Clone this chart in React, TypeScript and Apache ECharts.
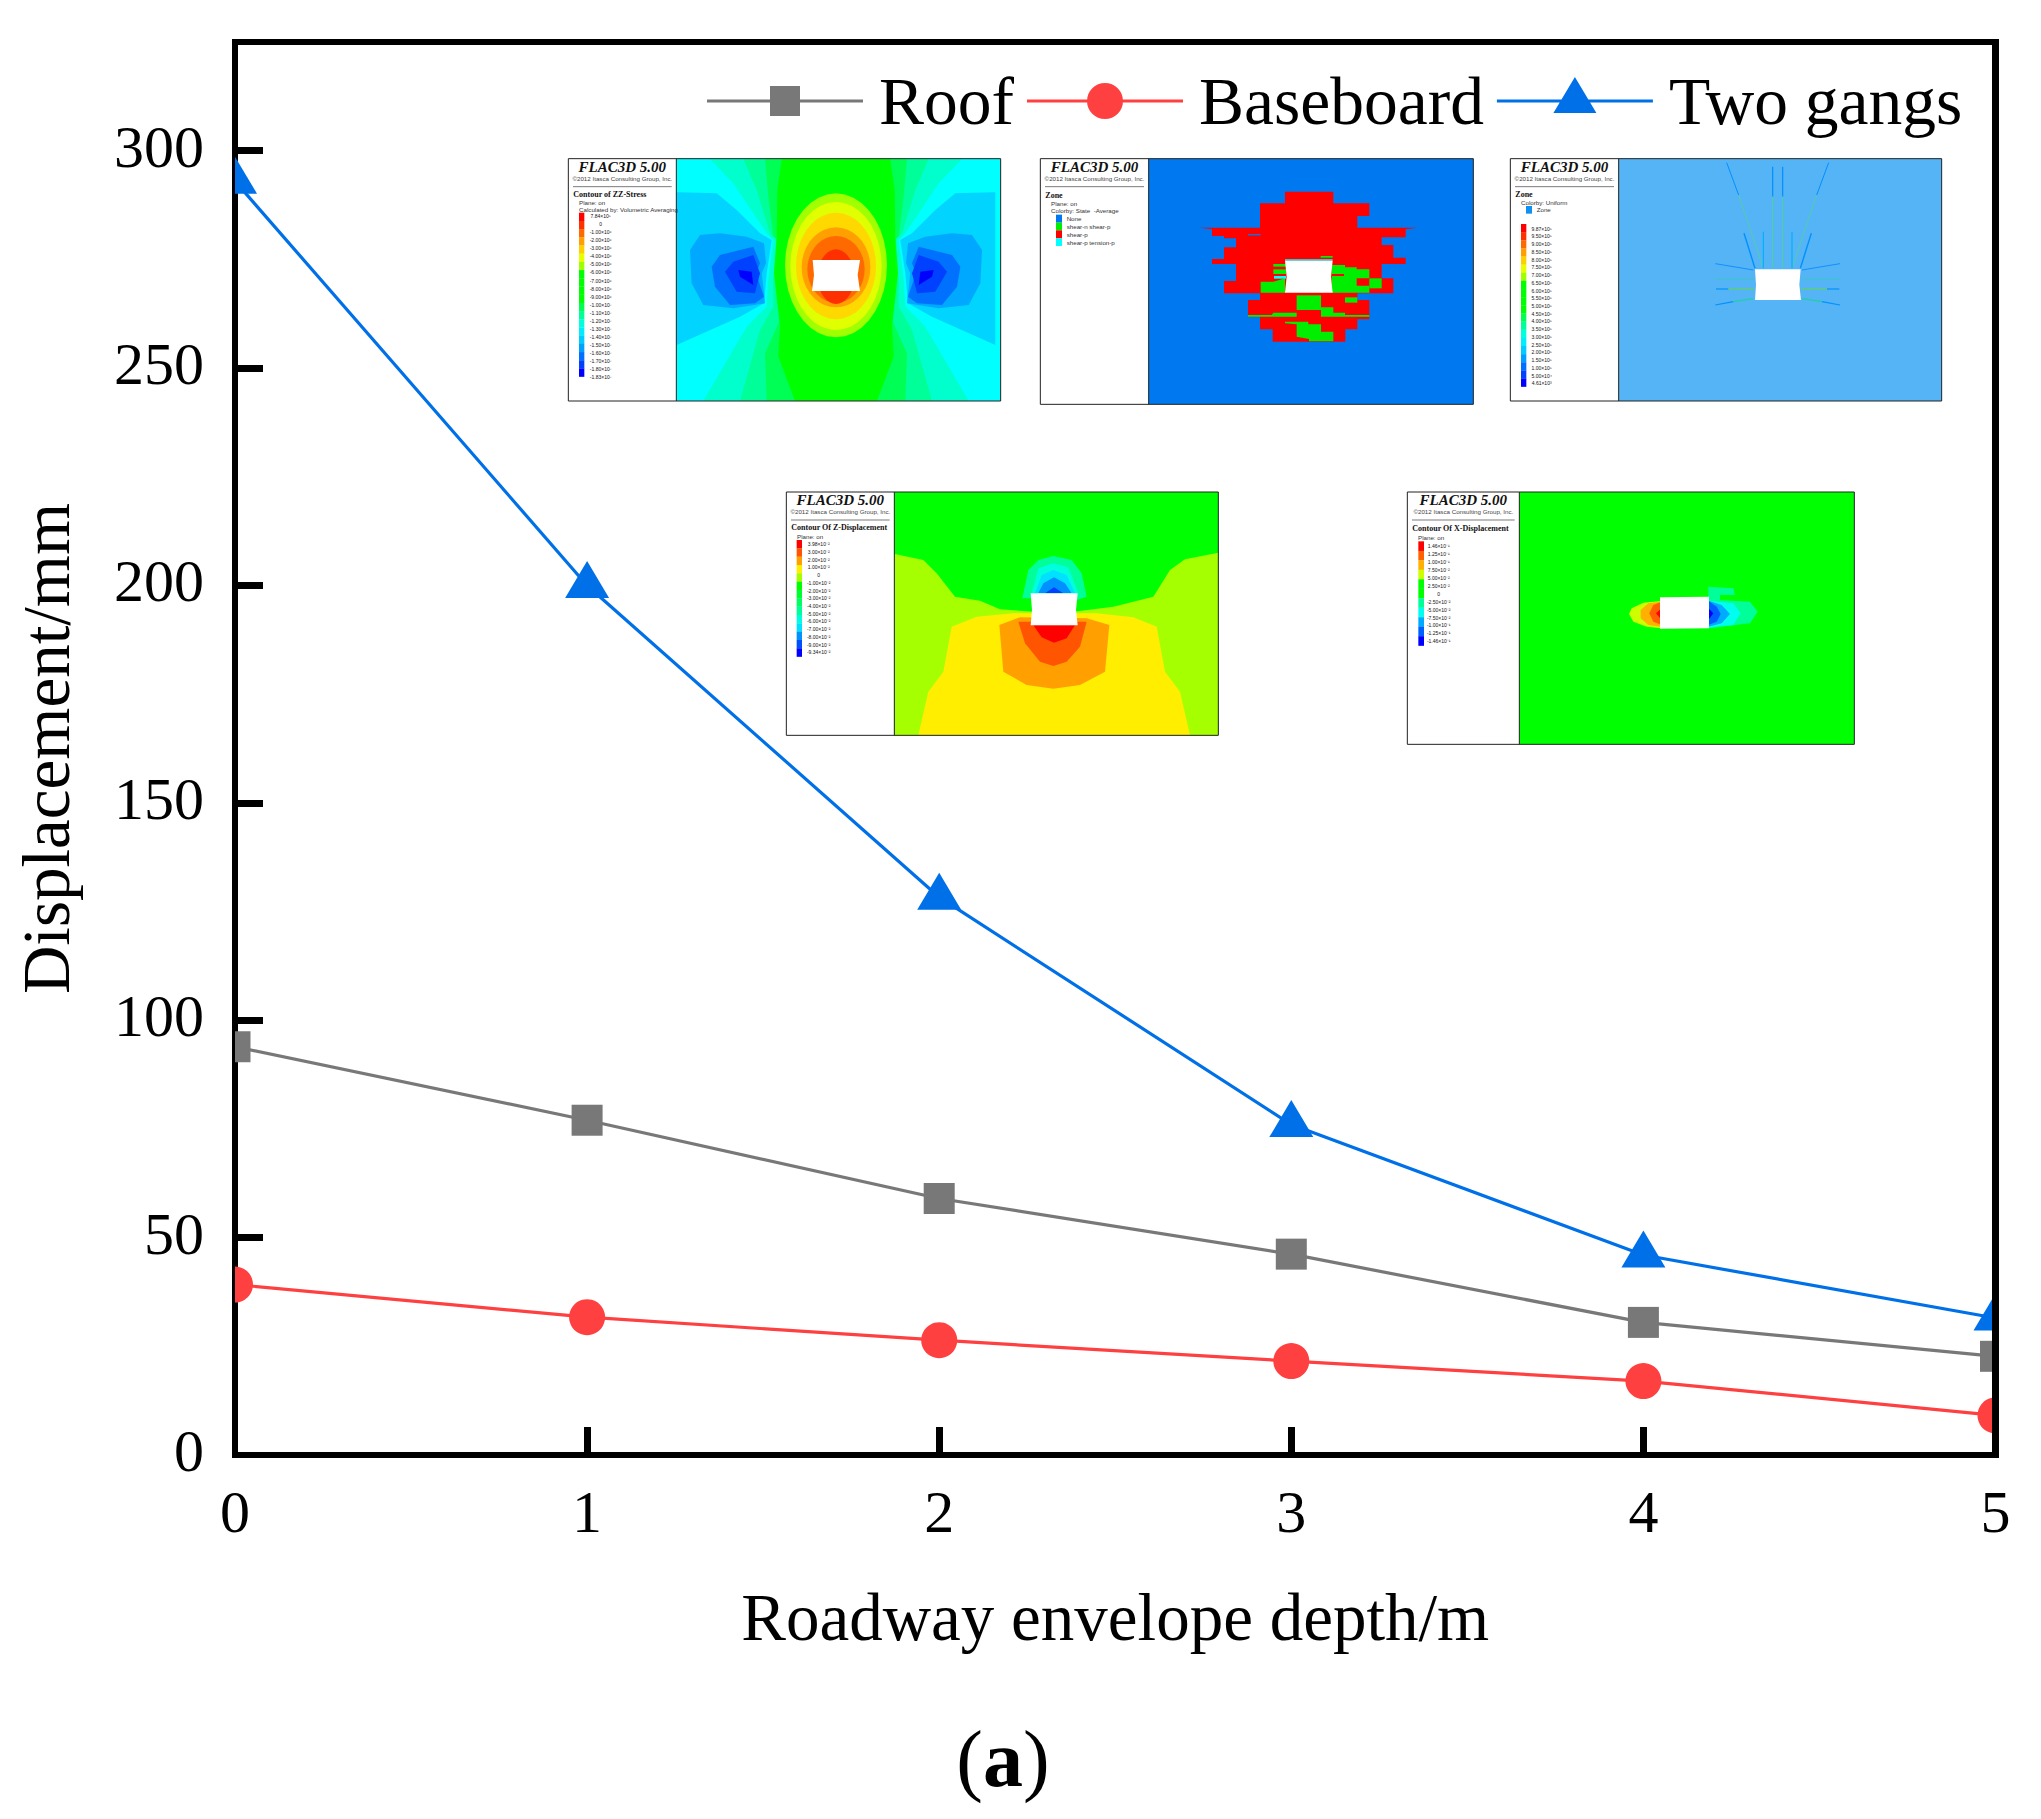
import React, { useEffect, useRef } from "react";
import * as echarts from "echarts";

const depths = [0, 1, 2, 3, 4, 5];
const roof = [93.9, 77, 59, 46.2, 30.5, 22.7];
const baseboard = [39.2, 31.7, 26.4, 21.6, 17, 9.1];
const twoGangs = [293, 200, 128.3, 76, 46, 31.5];
const yTickValues = [0, 50, 100, 150, 200, 250, 300];
const xTickValues = [0, 1, 2, 3, 4, 5];

const SERIF = "'Liberation Serif', 'Times New Roman', serif";
const SANS = "'Liberation Sans', Arial, sans-serif";

const GRAY = "#787878";
const RED = "#ff4040";
const BLUE = "#0070e8";

const CORNERS = "M0 0h.01v.01h-.01z M156 48h-.01v-.01h.01z ";
const LINE_BAR = "M0 22.5h156v3h-156z ";
const ICON_ROOF = "path://" + CORNERS + LINE_BAR + "M63 9h30v30h-30z";
const ICON_BASE = "path://" + CORNERS + LINE_BAR + "M60 24a18 18 0 1 1 36 0a18 18 0 1 1 -36 0z";
const ICON_GANG = "path://" + CORNERS + LINE_BAR + "M56.5 36L78 0L99.5 36z";

type P = [number, number];
const mirror = (pts: P[], cx: number): P[] => pts.map(([x, y]) => [2 * cx - x, y] as P);
const band = (left: P[], cx: number): P[] => [...left, ...mirror(left, cx).reverse()];

const ellipsePts = (cx: number, cy: number, rx: number, ry: number): P[] => {
  const out: P[] = [];
  for (let i = 0; i < 36; i++) {
    const a = (i / 36) * Math.PI * 2;
    out.push([cx + rx * Math.cos(a), cy + ry * Math.sin(a)]);
  }
  return out;
};

const RAMP_21 = [
  "#ff0000", "#ff3000", "#ff6a00", "#ffa000", "#ffd000", "#e8ff00", "#a0ff00", "#00ff00", "#00ff00", "#00ff00",
  "#00ff00", "#00ff50", "#00ff99", "#00ffdd", "#00ecff", "#00ccff", "#00a0ff", "#0070ff", "#0040ff", "#0000ff",
];
const RAMP_Z = ["#ff0000", "#ff5500", "#ffa000", "#ffee00", "#a6ff00", "#00ff00", "#00ff30", "#00ff60", "#00ff99", "#00ffdd", "#00e0ff", "#0090ff", "#0050ff", "#0000ff"];
const RAMP_X = ["#ff0000", "#ff6000", "#ffb000", "#ccff00", "#00ff00", "#00ff00", "#00ff99", "#00ffee", "#00aaff", "#0060ff", "#0000ff"];

const labelsZZ = ["7.84×10⁵", "0", "-1.00×10⁶", "-2.00×10⁶", "-3.00×10⁶", "-4.00×10⁶", "-5.00×10⁶", "-6.00×10⁶", "-7.00×10⁶", "-8.00×10⁶", "-9.00×10⁶", "-1.00×10⁷", "-1.10×10⁷", "-1.20×10⁷", "-1.30×10⁷", "-1.40×10⁷", "-1.50×10⁷", "-1.60×10⁷", "-1.70×10⁷", "-1.80×10⁷", "-1.83×10⁷"];
const labelsCable = ["9.87×10⁵", "9.50×10⁵", "9.00×10⁵", "8.50×10⁵", "8.00×10⁵", "7.50×10⁵", "7.00×10⁵", "6.50×10⁵", "6.00×10⁵", "5.50×10⁵", "5.00×10⁵", "4.50×10⁵", "4.00×10⁵", "3.50×10⁵", "3.00×10⁵", "2.50×10⁵", "2.00×10⁵", "1.50×10⁵", "1.00×10⁵", "5.00×10⁴", "4.61×10³"];
const labelsZ = ["3.98×10⁻²", "3.00×10⁻²", "2.00×10⁻²", "1.00×10⁻²", "0", "-1.00×10⁻²", "-2.00×10⁻²", "-3.00×10⁻²", "-4.00×10⁻²", "-5.00×10⁻²", "-6.00×10⁻²", "-7.00×10⁻²", "-8.00×10⁻²", "-9.00×10⁻²", "-9.34×10⁻²"];
const labelsX = ["1.46×10⁻¹", "1.25×10⁻¹", "1.00×10⁻¹", "7.50×10⁻²", "5.00×10⁻²", "2.50×10⁻²", "0", "-2.50×10⁻²", "-5.00×10⁻²", "-7.50×10⁻²", "-1.00×10⁻¹", "-1.25×10⁻¹", "-1.46×10⁻¹"];

type Shape = { c: string; p: P[] };
type Cable = { c: string; a: P; b: P; w?: number };
type Swatch = { c: string; y0: number; y1: number; t: string };
type Inset = {
  ox: number; oy: number;
  frame: [number, number, number, number, number];
  bg: string;
  shapes: Shape[];
  cables?: Cable[];
  head: string; headY: number; lines: { t: string; y: number }[];
  swatches?: Swatch[];
  bar?: { x0: number; x1: number; y0: number; y1: number; colors: string[] };
  labels?: { x: number; y0: number; y1: number; t: string[] };
};

const CX1 = 828;
const inset1Side: Shape[] = [
  { c: "#00d4ff", p: [[350, 157], [470, 160], [530, 210], [600, 280], [635, 300], [620, 400], [612, 490], [540, 530], [350, 615]] },
  { c: "#00a8ff", p: [[390, 330], [420, 285], [480, 280], [560, 290], [612, 310], [618, 370], [605, 400], [615, 490], [520, 505], [430, 495], [395, 430]] },
  { c: "#0070ff", p: [[455, 380], [480, 345], [580, 320], [600, 370], [588, 400], [612, 470], [585, 490], [510, 495], [465, 440]] },
  { c: "#0040ff", p: [[495, 395], [520, 365], [580, 345], [600, 400], [585, 460], [530, 455]] },
  { c: "#0000ff", p: [[535, 390], [575, 395], [580, 435], [540, 410]] },
];
const inset1: Inset = {
  ox: 560, oy: 140, frame: [25, 56, 1322, 783, 349], bg: "#00ffff",
  shapes: [
    { c: "#00ffcc", p: band([[450, 57], [520, 130], [620, 280], [640, 300], [625, 420], [620, 500], [560, 560], [430, 783]], CX1) },
    { c: "#00ff99", p: band([[550, 57], [590, 150], [630, 280], [650, 300], [640, 420], [640, 500], [600, 570], [540, 783]], CX1) },
    { c: "#00ff55", p: band([[615, 57], [625, 170], [640, 290], [655, 300], [650, 430], [660, 540], [615, 640], [620, 783]], CX1) },
    { c: "#00ff00", p: band([[665, 57], [652, 150], [650, 290], [642, 400], [660, 560], [655, 650], [705, 783]], CX1) },
    ...inset1Side,
    ...inset1Side.map((s) => ({ c: s.c, p: mirror(s.p, CX1) })),
    { c: "#a0ff00", p: ellipsePts(828, 376, 153, 216) },
    { c: "#e0ff00", p: ellipsePts(828, 378, 137, 192) },
    { c: "#ffd800", p: ellipsePts(828, 378, 120, 160) },
    { c: "#ffa000", p: ellipsePts(828, 382, 103, 120) },
    { c: "#ff6a00", p: ellipsePts(828, 388, 86, 100) },
    { c: "#ff3000", p: ellipsePts(828, 410, 55, 82) },
    { c: "#ffffff", p: [[758, 360], [900, 360], [893, 405], [900, 453], [756, 453], [762, 405]] },
  ],
  head: "Contour of ZZ-Stress", headY: 163,
  lines: [{ t: "Plane: on", y: 186 }, { t: "Calculated by: Volumetric Averaging", y: 208 }],
  bar: { x0: 57, x1: 73, y0: 218, y1: 710, colors: RAMP_21 },
  labels: { x: 122, y0: 228, y1: 712, t: labelsZZ },
};

const inset2: Inset = {
  ox: 1030, oy: 140, frame: [31, 56, 1330, 793, 356], bg: "#0078f0",
  shapes: [
    { c: "#ff0000", p: [[765, 155], [910, 155], [910, 190], [1018, 190], [1018, 228], [982, 228], [982, 263], [1163, 263], [1127, 268], [1127, 292], [1055, 292], [1055, 315], [1090, 315], [1090, 353], [1127, 353], [1127, 372], [1055, 372], [1055, 415], [1090, 415], [1090, 460], [582, 460], [582, 423], [618, 423], [618, 372], [546, 372], [546, 357], [582, 357], [582, 322], [618, 322], [618, 295], [582, 295], [582, 288], [546, 288], [546, 268], [510, 263], [690, 263], [690, 190], [765, 190]] },
    { c: "#ff0000", p: [[690, 458], [982, 458], [982, 480], [1018, 480], [1018, 538], [982, 538], [982, 568], [946, 568], [946, 605], [728, 605], [728, 568], [690, 568], [690, 530], [654, 530], [654, 480], [690, 480]] },
    { c: "#0078f0", p: [[654, 282], [692, 282], [692, 286], [654, 286]] },
    { c: "#00ee00", p: [[692, 425], [730, 425], [765, 415], [765, 458], [692, 458]] },
    { c: "#00ee00", p: [[905, 375], [945, 375], [945, 382], [980, 382], [980, 388], [1018, 388], [1018, 415], [980, 415], [980, 437], [1018, 437], [1018, 458], [905, 458]] },
    { c: "#00ee00", p: [[1018, 415], [1055, 415], [1055, 445], [1018, 445]] },
    { c: "#00ee00", p: [[800, 466], [873, 466], [873, 510], [800, 510]] },
    { c: "#00ee00", p: [[873, 502], [910, 502], [910, 518], [945, 518], [945, 525], [1018, 525], [1018, 530], [873, 530]] },
    { c: "#00ee00", p: [[654, 525], [725, 525], [730, 518], [800, 518], [800, 530], [654, 530]] },
    { c: "#00ee00", p: [[945, 472], [982, 472], [982, 488], [945, 488]] },
    { c: "#00ee00", p: [[765, 545], [835, 545], [835, 553], [873, 553], [873, 575], [910, 575], [910, 604], [837, 604], [837, 597], [800, 590], [800, 553], [765, 550]] },
    { c: "#00ee00", p: [[730, 372], [768, 372], [768, 380], [730, 380]] },
    { c: "#00ee00", p: [[730, 388], [768, 388], [768, 402], [730, 402]] },
    { c: "#00ee00", p: [[872, 348], [908, 348], [908, 353], [872, 353]] },
    { c: "#ff0000", p: [[905, 402], [942, 402], [942, 408], [905, 408]] },
    { c: "#00ffff", p: [[732, 408], [768, 408], [768, 416], [732, 416]] },
    { c: "#00ffff", p: [[765, 358], [908, 358], [908, 362], [765, 362]] },
    { c: "#ffffff", p: [[765, 362], [908, 362], [903, 410], [908, 458], [765, 458], [770, 410]] },
  ],
  head: "Zone", headY: 165,
  lines: [{ t: "Plane: on", y: 189 }, { t: "Colorby: State  -Average", y: 212 }],
  swatches: [
    { c: "#0078f0", y0: 224, y1: 248, t: "None" },
    { c: "#00ee00", y0: 248, y1: 271, t: "shear-n shear-p" },
    { c: "#ff0000", y0: 271, y1: 295, t: "shear-p" },
    { c: "#00ffff", y0: 295, y1: 318, t: "shear-p tension-p" },
  ],
};

const CX3 = 833;
const cableLeft: Cable[] = [
  { c: "#0090ff", a: [680, 68], b: [716, 165], w: 1 },
  { c: "#50d0a0", a: [716, 165], b: [790, 385], w: 0.8 },
  { c: "#0090ff", a: [818, 80], b: [818, 170], w: 1.2 },
  { c: "#50d0a0", a: [818, 170], b: [818, 385], w: 1 },
  { c: "#0090ff", a: [732, 280], b: [765, 385], w: 1.4 },
  { c: "#00b0ff", a: [790, 275], b: [790, 385], w: 1.2 },
  { c: "#1090ff", a: [646, 371], b: [760, 390], w: 1 },
  { c: "#30d0b0", a: [648, 418], b: [762, 418], w: 0.7 },
  { c: "#0090ff", a: [648, 447], b: [685, 447], w: 1.2 },
  { c: "#60d060", a: [685, 447], b: [762, 447], w: 1.2 },
  { c: "#0090ff", a: [646, 495], b: [700, 485], w: 1.2 },
  { c: "#20d0a0", a: [700, 485], b: [760, 476], w: 1.2 },
];
const inset3: Inset = {
  ox: 1500, oy: 140, frame: [31, 56, 1325, 783, 356], bg: "#55b4f5",
  shapes: [],
  cables: [
    ...cableLeft,
    ...cableLeft.map((k) => ({ ...k, a: [2 * CX3 - k.a[0], k.a[1]] as P, b: [2 * CX3 - k.b[0], k.b[1]] as P })),
  ],
  head: "Zone", headY: 163,
  lines: [{ t: "Colorby: Uniform", y: 186 }],
  swatches: [{ c: "#1090f0", y0: 198, y1: 221, t: "Zone" }],
  bar: { x0: 63, x1: 79, y0: 252, y1: 740, colors: RAMP_21 },
  labels: { x: 125, y0: 266, y1: 730, t: labelsCable },
};

const inset4: Inset = {
  ox: 780, oy: 480, frame: [19, 36, 1315, 766, 343], bg: "#00ff00",
  shapes: [
    { c: "#a6ff00", p: [[344, 222], [430, 240], [470, 280], [525, 350], [600, 362], [660, 388], [760, 395], [880, 395], [1000, 380], [1120, 350], [1170, 270], [1215, 238], [1315, 218], [1315, 766], [344, 766]] },
    { c: "#ffee00", p: [[415, 766], [445, 635], [490, 575], [515, 440], [590, 410], [700, 400], [950, 400], [1060, 412], [1130, 440], [1155, 575], [1200, 635], [1230, 766]] },
    { c: "#ffa000", p: [[658, 435], [720, 412], [920, 415], [988, 435], [975, 575], [900, 615], [820, 626], [740, 615], [670, 575]] },
    { c: "#ff5500", p: [[715, 425], [920, 425], [900, 500], [860, 545], [820, 558], [780, 545], [735, 490]] },
    { c: "#ff0000", p: [[760, 436], [885, 436], [860, 475], [822, 488], [785, 472]] },
    { c: "#00ff99", p: [[727, 355], [745, 270], [775, 240], [820, 228], [875, 240], [905, 280], [920, 350], [890, 360], [755, 355]] },
    { c: "#00ffdd", p: [[755, 340], [775, 265], [820, 250], [865, 262], [895, 340]] },
    { c: "#00e0ff", p: [[765, 340], [785, 285], [820, 270], [860, 285], [885, 340]] },
    { c: "#0090ff", p: [[775, 340], [790, 310], [822, 292], [855, 310], [875, 340]] },
    { c: "#0040ff", p: [[795, 340], [822, 322], [850, 340]] },
    { c: "#ffffff", p: [[752, 340], [893, 340], [888, 390], [893, 436], [752, 436], [756, 390]] },
  ],
  head: "Contour Of Z-Displacement", headY: 142,
  lines: [{ t: "Plane: on", y: 168 }],
  bar: { x0: 50, x1: 66, y0: 180, y1: 530, colors: RAMP_Z },
  labels: { x: 116, y0: 193, y1: 517, t: labelsZ },
};

const inset5: Inset = {
  ox: 1400, oy: 480, frame: [22, 36, 1363, 793, 358], bg: "#00ff00",
  shapes: [
    { c: "#ccff00", p: [[785, 363], [730, 368], [695, 385], [687, 402], [700, 425], [740, 440], [785, 445]] },
    { c: "#ffb000", p: [[785, 365], [745, 370], [722, 390], [722, 415], [745, 435], [785, 440]] },
    { c: "#ff6000", p: [[785, 365], [760, 375], [748, 400], [760, 425], [785, 435]] },
    { c: "#ff0000", p: [[785, 385], [768, 400], [785, 420]] },
    { c: "#00ff99", p: [[925, 320], [1000, 325], [1005, 345], [960, 345], [960, 360], [1050, 365], [1073, 395], [1050, 430], [925, 445]] },
    { c: "#00ffee", p: [[925, 362], [1000, 370], [1022, 400], [1000, 435], [925, 443]] },
    { c: "#00aaff", p: [[925, 362], [965, 375], [990, 402], [965, 430], [925, 440]] },
    { c: "#0060ff", p: [[925, 362], [950, 380], [962, 402], [950, 425], [925, 435]] },
    { c: "#0000ff", p: [[925, 385], [940, 400], [925, 420]] },
    { c: "#ffffff", p: [[780, 352], [927, 350], [927, 445], [780, 446]] },
  ],
  head: "Contour Of X-Displacement", headY: 146,
  lines: [{ t: "Plane: on", y: 172 }],
  bar: { x0: 55, x1: 72, y0: 184, y1: 497, colors: RAMP_X },
  labels: { x: 116, y0: 198, y1: 484, t: labelsX },
};

const insets: Inset[] = [inset1, inset2, inset3, inset4, inset5];

function drawInset(s: Inset): any[] {
  const X = (v: number) => s.ox + v / 3;
  const Y = (v: number) => s.oy + v / 3;
  const [l, t, r, b, sp] = s.frame;
  const els: any[] = [];
  const z = 1;
  const silent = true;
  const rect = (x0: number, y0: number, x1: number, y1: number, fill: string) => ({
    type: "rect", z, silent,
    shape: { x: X(x0), y: Y(y0), width: (x1 - x0) / 3, height: (y1 - y0) / 3 },
    style: { fill },
  });
  const text = (txt: string, x: number, y: number, font: string, align = "left", fill = "#222") => ({
    type: "text", z, silent,
    style: { text: txt, x: X(x), y: Y(y), font, fill, textAlign: align, textVerticalAlign: "middle" },
  });
  els.push(rect(l, t, r, b, "#ffffff"));
  els.push(rect(sp, t, r, b, s.bg));
  for (const sh of s.shapes) {
    els.push({
      type: "polygon", z, silent,
      shape: { points: sh.p.map(([x, y]) => [X(x), Y(y)]) },
      style: { fill: sh.c },
    });
  }
  if (s.cables) {
    for (const k of s.cables) {
      els.push({
        type: "line", z, silent,
        shape: { x1: X(k.a[0]), y1: Y(k.a[1]), x2: X(k.b[0]), y2: Y(k.b[1]) },
        style: { stroke: k.c, lineWidth: k.w ?? 1 },
      });
    }
    els.push({
      type: "polygon", z, silent,
      shape: { points: ([[765, 388], [902, 388], [898, 434], [903, 480], [765, 480], [768, 434]] as P[]).map(([x, y]) => [X(x), Y(y)]) },
      style: { fill: "#ffffff" },
    });
  }
  // frame
  els.push({
    type: "rect", z, silent,
    shape: { x: X(l), y: Y(t), width: (r - l) / 3, height: (b - t) / 3 },
    style: { fill: "none", stroke: "#222", lineWidth: 1 },
  });
  els.push({
    type: "line", z, silent,
    shape: { x1: X(sp), y1: Y(t), x2: X(sp), y2: Y(b) },
    style: { stroke: "#222", lineWidth: 1 },
  });
  const mid = (l + sp) / 2;
  els.push(text("FLAC3D 5.00", mid, t + 24, `italic bold 15px ${SERIF}`, "center", "#111"));
  els.push(text("©2012 Itasca Consulting Group, Inc.", mid, t + 58, `6.2px ${SANS}`, "center", "#444"));
  els.push({
    type: "line", z, silent,
    shape: { x1: X(l + 14), y1: Y(t + 84), x2: X(sp - 14), y2: Y(t + 84) },
    style: { stroke: "#444", lineWidth: 0.7 },
  });
  els.push(text(s.head, l + 15, s.headY, `bold 8px ${SERIF}`, "left", "#111"));
  for (const ln of s.lines) els.push(text(ln.t, l + 32, ln.y, `6.2px ${SANS}`, "left", "#333"));
  if (s.swatches) {
    for (const w of s.swatches) {
      els.push(rect(l + 47, w.y0, l + 65, w.y1, w.c));
      els.push(text(w.t, l + 79, (w.y0 + w.y1) / 2, `6.2px ${SANS}`, "left", "#333"));
    }
  }
  if (s.bar) {
    const { x0, x1, y0, y1, colors } = s.bar;
    const h = (y1 - y0) / colors.length;
    colors.forEach((c, i) => els.push(rect(x0, y0 + i * h, x1, y0 + (i + 1) * h + 0.5, c)));
  }
  if (s.labels) {
    const { x, y0, y1, t: ls } = s.labels;
    ls.forEach((txt, i) => {
      els.push(text(txt, x, y0 + ((y1 - y0) * i) / (ls.length - 1), `5px ${SANS}`, "center", "#111"));
    });
  }
  return els;
}

// Clip the edge markers the way the plot frame does in the original figure.
const edgeCovers = [
  { x: 208, w: 24, fill: "#ffffff" },
  { x: 232, w: 3, fill: "#000000" },
  { x: 1992, w: 7, fill: "#000000" },
  { x: 1999, w: 24, fill: "#ffffff" },
];

const tick = { show: true, inside: true, length: 28, lineStyle: { color: "#000", width: 7 } };

export default function App() {
  const ref = useRef<HTMLDivElement>(null);
  useEffect(() => {
    const chart = echarts.init(ref.current!, undefined, { renderer: "svg" });
    const mk = (name: string, data: number[], color: string, symbol: string, symbolSize: any, symbolOffset?: any) => ({
      name,
      type: "line",
      data: depths.map((d, i) => [d, data[i]]),
      symbol,
      symbolSize,
      symbolOffset,
      showSymbol: true,
      clip: true,
      itemStyle: { color },
      lineStyle: { color, width: 3.2 },
      emphasis: { disabled: true },
    });
    chart.setOption({
      animation: false,
      backgroundColor: "#ffffff",
      title: {
        text: "{p|(}{b|a}{p|)}", left: 1003, top: 1714, textAlign: "center", padding: 0,
        textStyle: {
          fontWeight: "normal",
          rich: {
            p: { fontFamily: SERIF, fontWeight: "normal", fontSize: 80, color: "#000", lineHeight: 90 },
            b: { fontFamily: SERIF, fontWeight: "bold", fontSize: 80, color: "#000", lineHeight: 90 },
          },
        },
      },
      grid: { left: 235, right: 45.5, top: 42, bottom: 364, show: true, borderColor: "#000", borderWidth: 6, backgroundColor: "transparent", outerBoundsMode: "none" },
      legend: {
        left: 707, top: 67, padding: 0, itemWidth: 156, itemHeight: 48, itemGap: 13,
        selectedMode: false,
        itemStyle: { borderWidth: 0 },
        textStyle: { fontFamily: SERIF, fontSize: 67.5, color: "#000", padding: [0, 0, 0, 11] },
        data: [
          { name: "Roof", icon: ICON_ROOF },
          { name: "Baseboard", icon: ICON_BASE },
          { name: "Two gangs", icon: ICON_GANG },
        ],
      },
      xAxis: {
        type: "value", min: 0, max: 5, interval: 1,
        name: "Roadway envelope depth/m", nameLocation: "middle", nameGap: 128,
        nameTextStyle: { fontFamily: SERIF, fontSize: 67, color: "#000" },
        axisLine: { show: false },
        axisTick: { ...tick, customValues: xTickValues.slice(1) },
        splitLine: { show: false },
        axisLabel: { customValues: xTickValues, fontFamily: SERIF, fontSize: 60, color: "#000", margin: 27 },
      },
      yAxis: {
        type: "value", min: 0, max: 325, interval: 50,
        name: "Displacement/mm", nameLocation: "middle", nameGap: 156, nameRotate: 90,
        nameTextStyle: { fontFamily: SERIF, fontSize: 67, color: "#000" },
        axisLine: { show: false },
        axisTick: { ...tick, customValues: yTickValues.slice(1) },
        splitLine: { show: false },
        axisLabel: { customValues: yTickValues, fontFamily: SERIF, fontSize: 60, color: "#000", margin: 31, verticalAlign: "bottom", lineHeight: 8 },
      },
      series: [
        mk("Roof", roof, GRAY, "rect", 31),
        mk("Baseboard", baseboard, RED, "circle", 36),
        mk("Two gangs", twoGangs, BLUE, "triangle", [44, 37], [0, -6]),
      ],
      graphic: [
        ...insets.flatMap(drawInset),
        ...edgeCovers.map((c) => ({
          type: "rect", z: 20, silent: true,
          shape: { x: c.x, y: 39, width: c.w, height: 1419 },
          style: { fill: c.fill },
        })),
      ],
    });
    return () => chart.dispose();
  }, []);
  return <div ref={ref} style={{ position: "absolute", left: 0, top: 0, width: 2041, height: 1819 }} />;
}
